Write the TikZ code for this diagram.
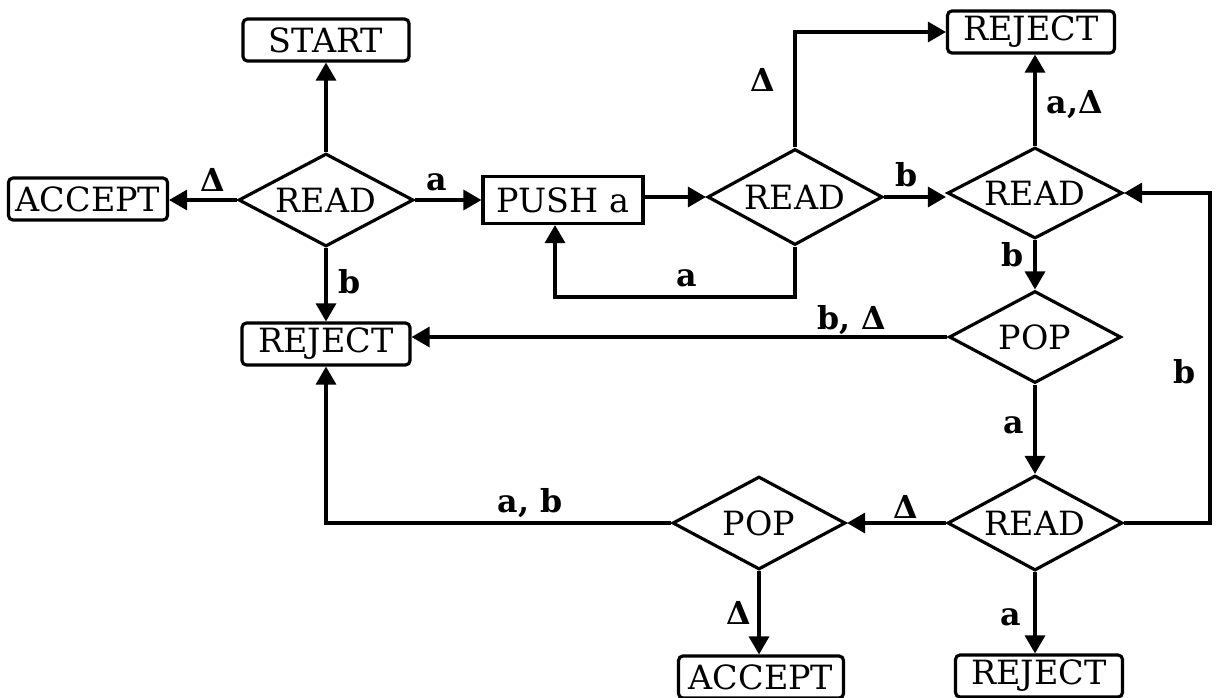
\documentclass[tikz,border=0pt]{standalone}
\usepackage{fontspec}
\setmainfont{DejaVu Serif}
\usetikzlibrary{shapes.geometric,arrows.meta}
\begin{document}
\begin{tikzpicture}[x=0.02cm,y=-0.02cm,
  line width=1.8pt,
  every node/.style={font=\fontsize{19}{22}\selectfont},
  term/.style={draw, rounded corners=2.5pt, minimum height=0.84cm, inner sep=0pt},
  proc/.style={draw, minimum height=0.94cm, minimum width=3.2cm, inner sep=0pt},
  dec/.style={draw, diamond, aspect=1.9, inner sep=0pt, minimum width=3.5cm, minimum height=1.86cm},
  arr/.style={-{Triangle[length=0.36cm,width=0.4cm]}},
  lab/.style={font=\fontsize{18}{22}\selectfont\bfseries, inner sep=0pt}
]
\useasboundingbox (0,0) rectangle (1216,697);
\clip (0,0) rectangle (1216,697);

\node[term, minimum width=3.32cm] (start) at (326,40) {START};
\node[dec] (r1) at (326,200) {READ};
\node[term, minimum width=3.18cm] (acc1) at (88,199) {ACCEPT};
\node[proc] (push) at (563,200) {PUSH a};
\node[dec, minimum height=1.92cm] (r2) at (795,197) {READ};
\node[term, minimum width=3.34cm] (rej1) at (1031,32) {REJECT};
\node[dec, minimum height=1.82cm] (r3) at (1035,193) {READ};
\node[term, minimum width=3.36cm] (rej2) at (326,344) {REJECT};
\node[dec, minimum width=3.44cm, minimum height=1.84cm] (pop1) at (1035,337) {POP};
\node[dec, minimum height=1.9cm] (r4) at (1035,523) {READ};
\node[dec, minimum width=3.46cm] (pop2) at (759,523) {POP};
\node[term, minimum width=3.3cm] (acc2) at (761,677) {ACCEPT};
\node[term, minimum width=3.34cm] (rej3) at (1039,676) {REJECT};

\coordinate (lp) at (555,297);
\coordinate (rt) at (1210,0);

\draw[arr] (r1.north) -- (start.south);
\draw[arr] (r1.west) -- (r1.west -| acc1.east);
\draw[arr] (r1.east) -- (r1.east -| push.west);
\draw[arr] (r1.south) -- (rej2.north);
\draw[arr] (push.east |- r2.west) -- (r2.west);
\draw[arr] (r2.south) |- (lp) -- (lp |- push.south);
\draw[arr] (r2.north) |- (rej1.west);
\draw[arr] (r2.east) -- (r2.east -| r3.west);
\draw[arr] (r3.north) -- (r3.north |- rej1.south);
\draw[arr] (r3.south) -- (pop1.north);
\draw[arr] (pop1.west) -- (pop1.west -| rej2.east);
\draw[arr] (pop1.south) -- (r4.north);
\draw[arr] (r4.east) -- (r4.east -| rt) -- (r3.east -| rt) -- (r3.east);
\draw[arr] (r4.west) -- (pop2.east);
\draw[arr] (r4.south) -- (r4.south |- rej3.north);
\draw[arr] (pop2.west) -| (rej2.south);
\draw[arr] (pop2.south) -- (pop2.south |- acc2.north);

\node[lab] (l1) at (213,180) {Δ};
\node[lab] (l2) at (437,182) {a};
\node[lab] (l3) at (350,282) {b};
\node[lab] (l4) at (763,80) {Δ};
\node[lab] (l5) at (687,278) {a};
\node[lab] (l6) at (907,175) {b};
\node[lab] (l7) at (1075,105) {a,Δ};
\node[lab] (l8) at (1013,255) {b};
\node[lab] (l9) at (852,320) {b, Δ};
\node[lab] (l10) at (1185,372) {b};
\node[lab] (l11) at (1014,425) {a};
\node[lab] (l12) at (906,507) {Δ};
\node[lab] (l13) at (530,503) {a, b};
\node[lab] (l14) at (739,613) {Δ};
\node[lab] (l15) at (1011,617) {a};
\end{tikzpicture}
\end{document}
